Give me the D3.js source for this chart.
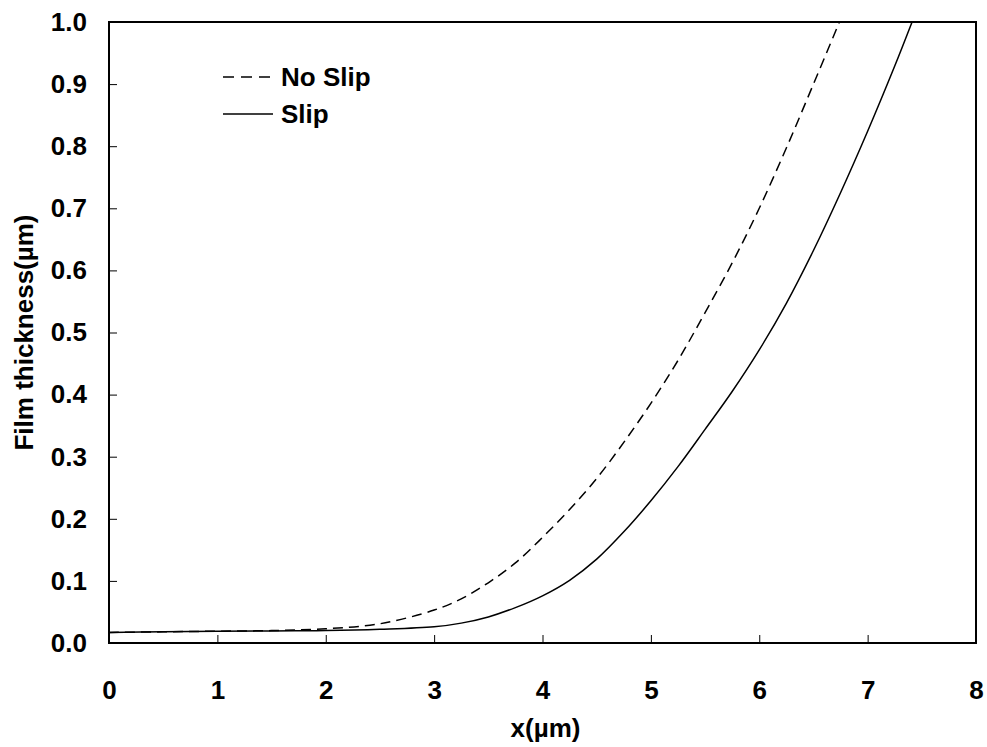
<!DOCTYPE html>
<html>
<head>
<meta charset="utf-8">
<script src="https://cdn.jsdelivr.net/npm/d3@7"></script>
<style>
  body { margin: 0; background: #fff; }
  text { font-family: "Liberation Sans", Arial, sans-serif; font-weight: bold; }
</style>
</head>
<body>
<script>
// film thickness profiles
var noSlipX = [0, 0.5, 1, 1.5, 2, 2.5, 3, 3.25, 3.5, 3.75, 4, 4.25, 4.5, 4.75, 5, 5.25, 5.5, 5.75, 6, 6.25, 6.5, 6.74];
var noSlipH = [0.017, 0.018, 0.019, 0.020, 0.023, 0.031, 0.053, 0.071, 0.097, 0.129, 0.170, 0.215, 0.265, 0.323, 0.386, 0.455, 0.532, 0.612, 0.700, 0.797, 0.900, 1.0];

var slipX = [0, 0.5, 1, 1.5, 2, 2.5, 3, 3.25, 3.5, 3.75, 4, 4.25, 4.5, 4.75, 5, 5.25, 5.5, 5.75, 6, 6.25, 6.5, 6.75, 7, 7.25, 7.41];
var slipH = [0.017, 0.018, 0.019, 0.0195, 0.020, 0.022, 0.026, 0.032, 0.042, 0.057, 0.076, 0.101, 0.135, 0.179, 0.229, 0.284, 0.344, 0.405, 0.472, 0.547, 0.632, 0.725, 0.824, 0.929, 1.0];

var xTicks = [0, 1, 2, 3, 4, 5, 6, 7, 8];
var yTicks = [0, 0.1, 0.2, 0.3, 0.4, 0.5, 0.6, 0.7, 0.8, 0.9, 1.0];

var margin = {top: 22, right: 11, bottom: 104, left: 109},
    width = 987 - margin.left - margin.right,
    height = 747 - margin.top - margin.bottom;

var x = d3.scaleLinear().domain([0, 8]).range([0, width]);
var y = d3.scaleLinear().domain([0, 1]).range([height, 0]);

var svg = d3.select("body").append("svg")
    .attr("width", 987)
    .attr("height", 747)
  .append("g")
    .attr("transform", "translate(" + margin.left + "," + margin.top + ")");

// inward ticks, no domain line (frame drawn separately)
var xAxis = svg.append("g")
    .attr("transform", "translate(0," + height + ")")
    .call(d3.axisBottom(x).tickValues(xTicks).tickSize(-8).tickPadding(38).tickFormat(d3.format("d")));
xAxis.select(".domain").remove();
xAxis.selectAll("line").filter(function(d) { return d === 0 || d === 8; }).remove();
xAxis.selectAll("line").attr("stroke", "#000").attr("stroke-width", 1);
xAxis.selectAll("text").attr("font-size", 26).attr("fill", "#000").attr("dy", "0.71em");

var yAxis = svg.append("g")
    .call(d3.axisLeft(y).tickValues(yTicks).tickSize(-8).tickPadding(22).tickFormat(d3.format(".1f")));
yAxis.select(".domain").remove();
yAxis.selectAll("line").filter(function(d) { return d === 0 || d === 1; }).remove();
yAxis.selectAll("line").attr("stroke", "#000").attr("stroke-width", 1);
yAxis.selectAll("text").attr("font-size", 26).attr("fill", "#000");

// frame
svg.append("rect")
    .attr("width", width)
    .attr("height", height)
    .attr("fill", "none")
    .attr("stroke", "#000")
    .attr("stroke-width", 2);

var line = d3.line()
    .x(function(d) { return x(d[0]); })
    .y(function(d) { return y(d[1]); })
    .curve(d3.curveCatmullRom.alpha(0.5));

svg.append("path")
    .datum(d3.zip(noSlipX, noSlipH))
    .attr("d", line)
    .attr("fill", "none")
    .attr("stroke", "#000")
    .attr("stroke-width", 1.5)
    .attr("stroke-dasharray", "10,6");

svg.append("path")
    .datum(d3.zip(slipX, slipH))
    .attr("d", line)
    .attr("fill", "none")
    .attr("stroke", "#000")
    .attr("stroke-width", 1.5);

// axis titles
svg.append("text")
    .attr("x", width / 2 + 3)
    .attr("y", height + 94)
    .attr("text-anchor", "middle")
    .attr("font-size", 26)
    .text("x(\u00b5m)");

svg.append("text")
    .attr("transform", "translate(" + (33 - margin.left) + "," + (height / 2) + ") rotate(-90)")
    .attr("text-anchor", "middle")
    .attr("font-size", 26)
    .text("Film thickness(\u00b5m)");

// legend
var legend = svg.append("g").attr("transform", "translate(" + (223 - margin.left) + "," + (77 - margin.top) + ")");
legend.append("line")
    .attr("x1", 0).attr("x2", 47).attr("y1", 0).attr("y2", 0)
    .attr("stroke", "#000").attr("stroke-width", 1.5).attr("stroke-dasharray", "11,7");
legend.append("text").attr("x", 58).attr("y", 0).attr("dy", "0.33em").attr("font-size", 26).text("No Slip");
legend.append("line")
    .attr("x1", 0).attr("x2", 50).attr("y1", 37).attr("y2", 37)
    .attr("stroke", "#000").attr("stroke-width", 1.5);
legend.append("text").attr("x", 58).attr("y", 37).attr("dy", "0.33em").attr("font-size", 26).text("Slip");
</script>
</body>
</html>
